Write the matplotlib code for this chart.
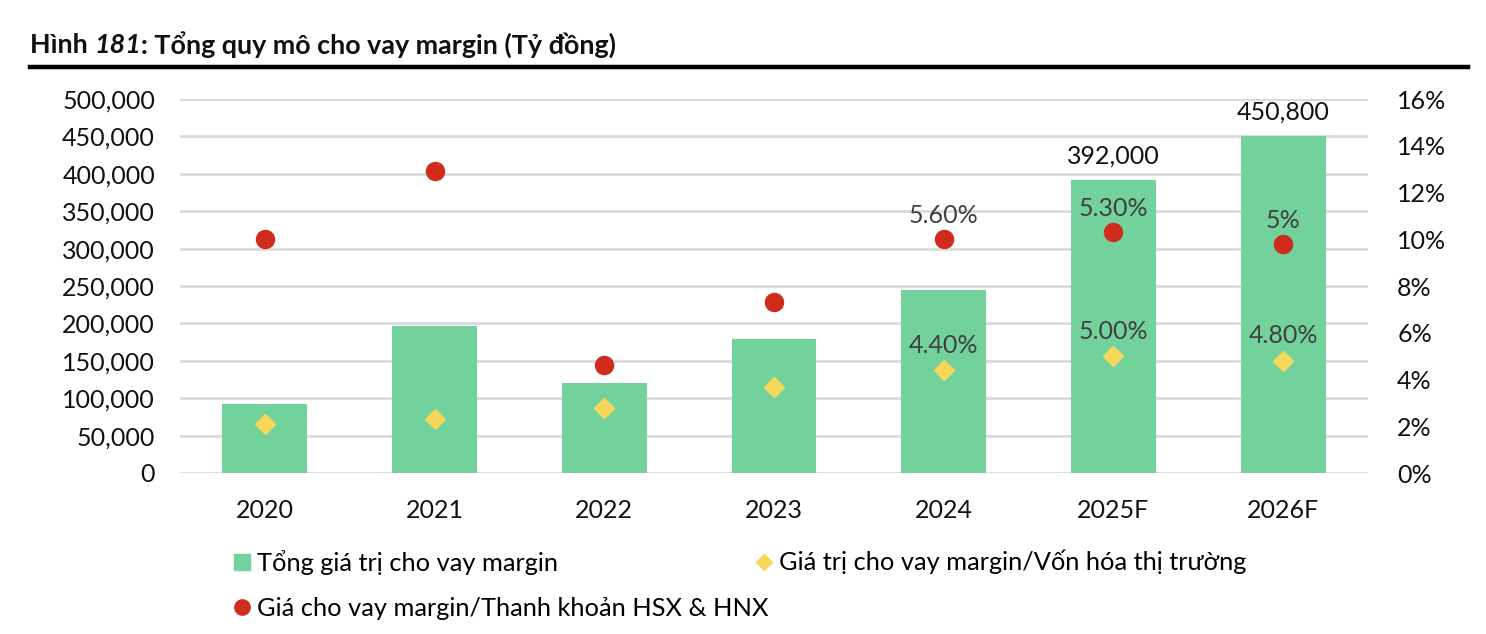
import matplotlib
matplotlib.use("Agg")
import matplotlib.pyplot as plt
from matplotlib.lines import Line2D
import numpy as np

plt.rcParams['font.family'] = ['Lato', 'Noto Sans', 'DejaVu Sans']

years = ["2020", "2021", "2022", "2023", "2024", "2025F", "2026F"]
margin_total = [92000, 197000, 120000, 179000, 245000, 392000, 450800]
margin_vs_liquidity = [0.100, 0.129, 0.046, 0.073, 0.100, 0.103, 0.098]
margin_vs_mcap = [0.021, 0.023, 0.028, 0.037, 0.044, 0.050, 0.048]
bar_labels = ["", "", "", "", "", "392,000", "450,800"]
dot_labels = ["", "", "", "", "5.60%", "5.30%", "5%"]
diamond_labels = ["", "", "", "", "4.40%", "5.00%", "4.80%"]

GREEN = "#73D19C"
RED = "#D02C1E"
YELLOW = "#F7D75A"
GRID = "#D9D9D9"
FS = 18

fig = plt.figure(figsize=(14.86, 6.34), dpi=100)
ax = fig.add_axes([180 / 1486, 1 - 473 / 634, 1188 / 1486, 374 / 634])
ax2 = ax.twinx()

x = np.arange(len(years))
ax.bar(x, margin_total, width=0.5, color=GREEN, zorder=2)
ax.set_ylim(0, 500000)
ax.set_xlim(-0.5, len(years) - 0.5)
ax.set_yticks(np.arange(0, 500001, 50000))
ax.set_yticklabels([f"{v:,}" for v in range(0, 500001, 50000)])
ax.yaxis.grid(True, color=GRID, linewidth=2)
ax.set_axisbelow(True)
ax.set_xticks(x)
ax.set_xticklabels(years)
ax.tick_params(axis='both', length=0, labelsize=FS, colors="#111111")
ax.tick_params(axis='y', pad=18)
ax.tick_params(axis='x', pad=19)
for s in ax.spines.values():
    s.set_visible(False)

ax2.plot(x, margin_vs_liquidity, linestyle='none', marker='o', ms=13,
         color=RED, zorder=3)
ax2.plot(x, margin_vs_mcap, linestyle='none', marker='D', ms=10,
         color=YELLOW, zorder=3)
ax2.set_ylim(0, 0.16)
ax2.set_yticks(np.arange(0, 0.161, 0.02))
ax2.set_yticklabels([f"{int(round(v * 100))}%" for v in np.arange(0, 0.161, 0.02)])
ax2.tick_params(axis='y', length=0, labelsize=FS, colors="#111111", pad=21)
for s in ax2.spines.values():
    s.set_visible(False)

for i, lab in enumerate(bar_labels):
    if lab:
        ax.annotate(lab, (x[i], margin_total[i]), xytext=(0, 17),
                    textcoords='offset points', ha='center', va='center',
                    fontsize=FS, color="#111111")
for i, lab in enumerate(dot_labels):
    if lab:
        ax2.annotate(lab, (x[i], margin_vs_liquidity[i]), xytext=(0, 17),
                     textcoords='offset points', ha='center', va='center',
                     fontsize=FS, color="#404040")
for i, lab in enumerate(diamond_labels):
    if lab:
        ax2.annotate(lab, (x[i], margin_vs_mcap[i]), xytext=(0, 18),
                     textcoords='offset points', ha='center', va='center',
                     fontsize=FS, color="#404040")

# title with italic figure number
fig.canvas.draw()
r = fig.canvas.get_renderer()
tx = 30 / 1486
ty = 1 - 45 / 634
parts = [("Hình ", 'normal'), ("181", 'italic'), (": Tổng quy mô cho vay margin (Tỷ đồng)", 'normal')]
for txt, style in parts:
    t = fig.text(tx, ty, txt, fontsize=19.4, fontweight='bold', fontstyle=style,
                 ha='left', va='center', color="#111111")
    bb = t.get_window_extent(renderer=r)
    tx += bb.width / fig.bbox.width
fig.add_artist(Line2D([30 / 1486, 1468 / 1486], [1 - 67 / 634, 1 - 67 / 634],
                      color='black', linewidth=3.2))

# legend: left column (bars, dots) and right column (diamonds)
h_bar = Line2D([], [], linestyle='none', marker='s', ms=11, color=GREEN)
h_dot = Line2D([], [], linestyle='none', marker='o', ms=11, color=RED)
h_dia = Line2D([], [], linestyle='none', marker='D', ms=8, color=YELLOW)
leg_kw = dict(loc='upper left', frameon=False, fontsize=18.3, handlelength=0.6,
              handletextpad=0.3, labelspacing=0.85, borderaxespad=0, borderpad=0)
fig.legend([h_bar, h_dot],
           ["Tổng giá trị cho vay margin",
            "Giá cho vay margin/Thanh khoản HSX & HNX"],
           bbox_to_anchor=(234 / 1486, 1 - 550 / 634), **leg_kw)
fig.legend([h_dia], ["Giá trị cho vay margin/Vốn hóa thị trường"],
           bbox_to_anchor=(756 / 1486, 1 - 550 / 634), **leg_kw)

fig.savefig("out.png", dpi=100)
